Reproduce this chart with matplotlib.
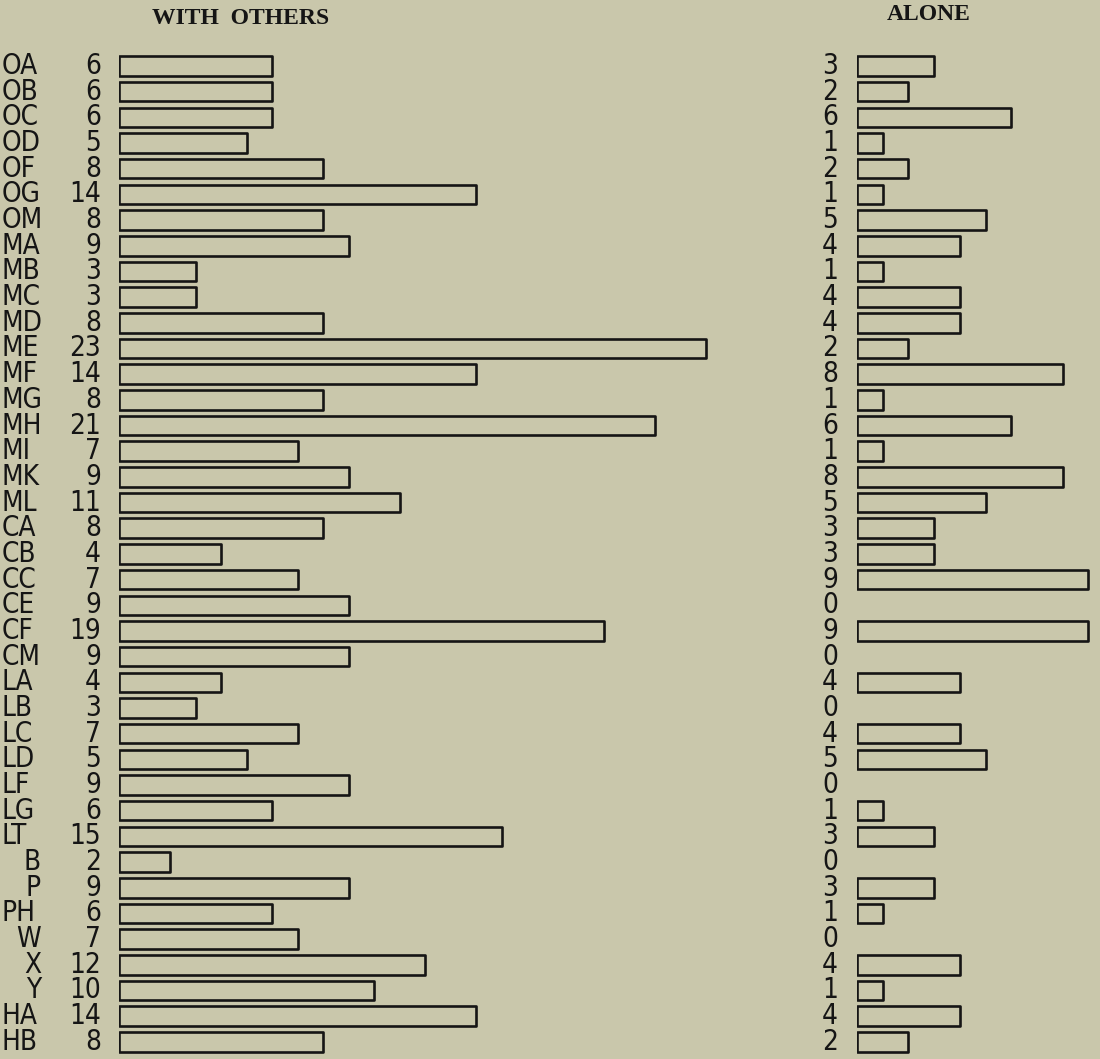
import matplotlib
matplotlib.use("Agg")
import matplotlib.pyplot as plt
import matplotlib.font_manager as fm
from matplotlib.transforms import blended_transform_factory

# ---- data ----
categories = ["OA", "OB", "OC", "OD", "OF", "OG", "OM",
              "MA", "MB", "MC", "MD", "ME", "MF", "MG", "MH", "MI", "MK", "ML",
              "CA", "CB", "CC", "CE", "CF", "CM",
              "LA", "LB", "LC", "LD", "LF", "LG", "LT",
              "B", "P", "PH", "W", "X", "Y", "HA", "HB"]
with_others = [6, 6, 6, 5, 8, 14, 8,
               9, 3, 3, 8, 23, 14, 8, 21, 7, 9, 11,
               8, 4, 7, 9, 19, 9,
               4, 3, 7, 5, 9, 6, 15,
               2, 9, 6, 7, 12, 10, 14, 8]
alone = [3, 2, 6, 1, 2, 1, 5,
         4, 1, 4, 4, 2, 8, 1, 6, 1, 8, 5,
         3, 3, 9, 0, 9, 0,
         4, 0, 4, 5, 0, 1, 3,
         0, 3, 1, 0, 4, 1, 4, 2]
titles = ["WITH  OTHERS", "ALONE"]

# ---- styling ----
W, H, DPI = 1100, 1059, 100
BG = "#c9c7ab"
INK = "#151515"

names = {f.name for f in fm.fontManager.ttflist}
if "Liberation Sans Narrow" in names:
    lab_font = dict(family="Liberation Sans Narrow")
elif any(f.name == "DejaVu Sans" and "condensed" in str(f.stretch) for f in fm.fontManager.ttflist):
    lab_font = dict(family="DejaVu Sans", fontstretch="condensed")
else:
    lab_font = dict(family="DejaVu Sans")
LAB_SIZE = 20

fig = plt.figure(figsize=(W / DPI, H / DPI), dpi=DPI, facecolor=BG)

n = len(categories)
row0, row_step = 66.0, 25.68           # pixel centre of first row, spacing
top_px = row0 - row_step / 2
bot_px = row0 + row_step * (n - 1) + row_step / 2
ax_bottom = 1 - bot_px / H
ax_height = (bot_px - top_px) / H

def make_axes(left_px, px_per_unit, xmax):
    ax = fig.add_axes([left_px / W, ax_bottom, xmax * px_per_unit / W, ax_height])
    ax.set_xlim(0, xmax)
    ax.set_ylim(n - 0.5, -0.5)
    ax.set_facecolor("none")
    ax.axis("off")
    return ax

axL = make_axes(119, 25.5, 24)
axR = make_axes(857, 25.7, 9.4)

ypos = list(range(n))
axL.barh(ypos, with_others, height=0.76, left=0, facecolor="none",
         edgecolor=INK, linewidth=1.9, joinstyle="round")
axR.barh(ypos, alone, height=0.76, left=0, facecolor="none",
         edgecolor=INK, linewidth=1.9, joinstyle="round")
# zero-valued bars should not show any outline
for ax, vals in ((axL, with_others), (axR, alone)):
    for p, v in zip(ax.patches, vals):
        if v == 0:
            p.set_visible(False)

trL = blended_transform_factory(fig.transFigure, axL.transData)
trR = blended_transform_factory(fig.transFigure, axR.transData)
for i, (cat, a, b) in enumerate(zip(categories, with_others, alone)):
    if len(cat) == 1:
        axL.text(41 / W, i, cat, transform=trL, ha="right", va="center",
                 fontsize=LAB_SIZE, color=INK, **lab_font)
    else:
        axL.text(2 / W, i, cat, transform=trL, ha="left", va="center",
                 fontsize=LAB_SIZE, color=INK, **lab_font)
    axL.text(101 / W, i, str(a), transform=trL, ha="right", va="center",
             fontsize=LAB_SIZE, color=INK, **lab_font)
    axR.text(830 / W, i, str(b), transform=trR, ha="center", va="center",
             fontsize=LAB_SIZE, color=INK, **lab_font)

fig.text(241 / W, 1 - 18 / H, titles[0], ha="center", va="center",
         fontsize=17, family="Liberation Serif", weight="bold", color=INK)
fig.text(929 / W, 1 - 15 / H, titles[1], ha="center", va="center",
         fontsize=17, family="Liberation Serif", weight="bold", color=INK)

fig.savefig("out.png", dpi=DPI, facecolor=BG)
